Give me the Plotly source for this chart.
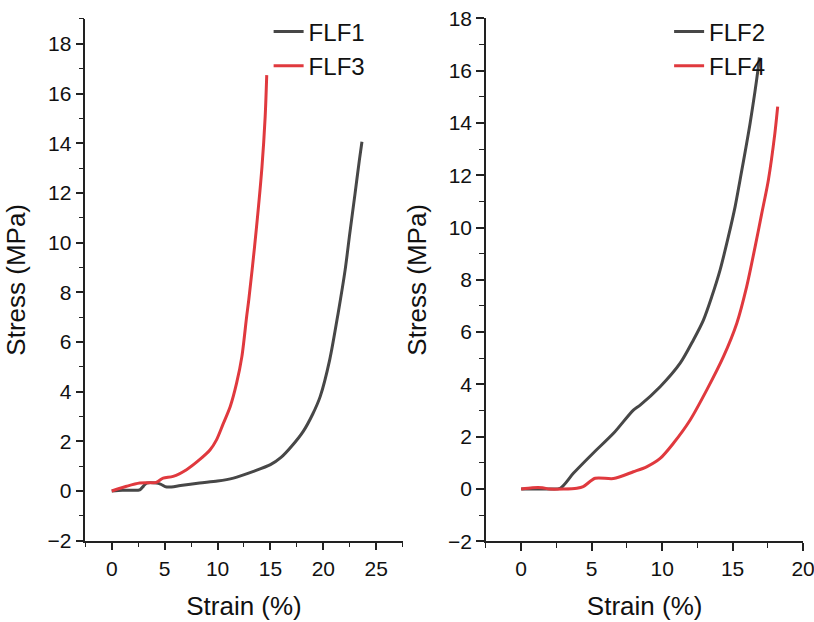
import plotly.graph_objects as go

# FLF1 (left, gray)
flf1_x = [0, 1.0, 2.0, 2.65, 3.0, 3.3, 4.2, 4.6, 5.2, 6.5, 8.3, 10.0, 11.5, 13.4, 15.0, 16.0, 17.0, 18.1, 19.0, 19.7, 20.6, 21.4, 22.06, 22.5, 23.0, 23.4, 23.65]
flf1_y = [0, 0.03, 0.03, 0.05, 0.2, 0.32, 0.32, 0.28, 0.16, 0.22, 0.32, 0.4, 0.52, 0.79, 1.06, 1.35, 1.8, 2.4, 3.1, 3.8, 5.28, 7.16, 8.9, 10.37, 11.98, 13.3, 14.06]
# FLF3 (left, red)
flf3_x = [0, 1.4, 2.65, 4.2, 4.86, 5.8, 7.07, 8.3, 9.3, 9.9, 10.5, 11.2, 11.8, 12.3, 12.75, 12.95, 13.5, 14.2, 14.5, 14.65]
flf3_y = [0, 0.19, 0.32, 0.35, 0.52, 0.59, 0.86, 1.26, 1.66, 2.06, 2.67, 3.4, 4.34, 5.41, 7.02, 7.69, 9.84, 13.05, 15.06, 16.74]
# FLF2 (right, gray)
flf2_x = [0, 1.0, 2.0, 2.77, 3.7, 5.1, 6.55, 7.96, 8.44, 9.86, 11.28, 12.22, 12.93, 13.52, 14.11, 14.7, 15.18, 15.53, 16.24, 16.83, 16.9]
flf2_y = [0, 0.0, 0.0, 0.03, 0.6, 1.37, 2.13, 3.02, 3.21, 3.91, 4.81, 5.70, 6.46, 7.35, 8.37, 9.65, 10.8, 11.82, 13.98, 16.15, 16.5]
# FLF4 (right, red)
flf4_x = [0, 0.8, 1.5, 2.0, 3.0, 3.95, 4.4, 5.25, 6.55, 7.96, 8.9, 9.86, 10.8, 11.99, 13.17, 14.35, 15.3, 16.0, 16.6, 17.07, 17.54, 18.0, 18.2]
flf4_y = [0, 0.05, 0.05, 0.0, 0.0, 0.03, 0.09, 0.41, 0.4, 0.66, 0.85, 1.17, 1.75, 2.64, 3.79, 5.06, 6.34, 7.74, 9.27, 10.54, 11.82, 13.6, 14.62]

GRAY = "#474747"
RED = "#e0393e"
FONT = "Liberation Sans, Arial, sans-serif"

fig = go.Figure()
line_kw = dict(width=3, shape="spline", smoothing=0.8)
fig.add_trace(go.Scatter(x=flf1_x, y=flf1_y, name="FLF1", mode="lines",
                         line=dict(color=GRAY, **line_kw), xaxis="x", yaxis="y", legend="legend"))
fig.add_trace(go.Scatter(x=flf3_x, y=flf3_y, name="FLF3", mode="lines",
                         line=dict(color=RED, **line_kw), xaxis="x", yaxis="y", legend="legend"))
fig.add_trace(go.Scatter(x=flf2_x, y=flf2_y, name="FLF2", mode="lines",
                         line=dict(color=GRAY, **line_kw), xaxis="x2", yaxis="y2", legend="legend2"))
fig.add_trace(go.Scatter(x=flf4_x, y=flf4_y, name="FLF4", mode="lines",
                         line=dict(color=RED, **line_kw), xaxis="x2", yaxis="y2", legend="legend2"))

axis_common = dict(showgrid=False, zeroline=False, showline=True, linecolor="#222222", linewidth=1.5,
                   ticks="outside", ticklen=8, tickwidth=1.5, tickcolor="#222222",
                   tickfont=dict(family=FONT, size=21, color="#111111"),
                   title_font=dict(family=FONT, size=26, color="#111111"),
                   automargin=False, ticklabeloverflow="allow",
                   minor=dict(ticks="outside", ticklen=5, tickwidth=1.2, tickcolor="#222222", showgrid=False))

fig.update_layout(
    width=814, height=622,
    margin=dict(l=0, r=0, t=0, b=0, autoexpand=False),
    paper_bgcolor="white", plot_bgcolor="white",
    font=dict(family=FONT, color="#111111"),
    xaxis=dict(domain=[0.1048, 0.4947], range=[-2.5, 27.5], dtick=5, tick0=0,
               title=dict(text="Strain (%)", standoff=18), anchor="y", **axis_common),
    yaxis=dict(domain=[0.1307, 0.9695], range=[-2, 19], dtick=2, tick0=0,
               title=dict(text="Stress (MPa)", standoff=14), anchor="x", **axis_common),
    xaxis2=dict(domain=[0.597, 0.9869], range=[-2.5, 20.02], dtick=5, tick0=0,
                title=dict(text="Strain (%)", standoff=18), anchor="y2", **axis_common),
    yaxis2=dict(domain=[0.1297, 0.9706], range=[-2, 18], dtick=2, tick0=0,
                title=dict(text="Stress (MPa)", standoff=14), anchor="x2", **axis_common),
    legend=dict(x=0.33, y=0.985, xanchor="left", yanchor="top", bgcolor="rgba(0,0,0,0)",
                font=dict(family=FONT, size=24, color="#111111"), tracegroupgap=0),
    legend2=dict(x=0.822, y=0.985, xanchor="left", yanchor="top", bgcolor="rgba(0,0,0,0)",
                 font=dict(family=FONT, size=24, color="#111111"), tracegroupgap=0),
)
fig.update_xaxes(minor=dict(dtick=2.5, tick0=0))
fig.update_yaxes(minor=dict(dtick=1, tick0=0))

fig.write_html("out.html")
